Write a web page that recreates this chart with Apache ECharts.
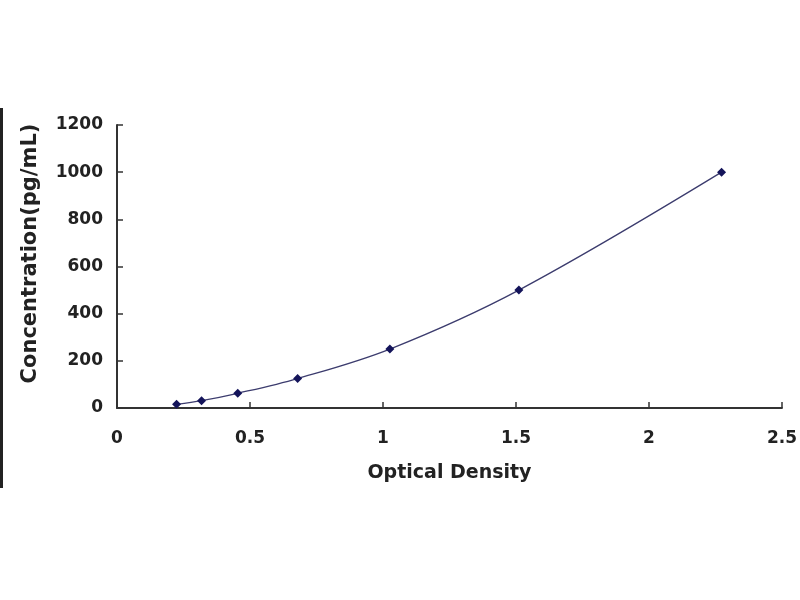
<!DOCTYPE html>
<html>
<head>
<meta charset="utf-8">
<title>Standard Curve</title>
<script src="https://cdn.jsdelivr.net/npm/echarts@6/dist/echarts.min.js"></script>
<style>
  html, body { margin: 0; padding: 0; background: #fff; }
  #chart { width: 800px; height: 600px; }
</style>
</head>
<body>
<div id="chart"></div>
<script>
// standard curve points (OD vs concentration)
const odValues = [0.224, 0.318, 0.454, 0.679, 1.026, 1.511, 2.273];
const concValues = [15.6, 31.25, 62.5, 125, 250, 500, 1000];
const xTicks = [0, 0.5, 1, 1.5, 2, 2.5];
const yTicks = [0, 200, 400, 600, 800, 1000, 1200];

const points = odValues.map((od, i) => [od, concValues[i]]);
const labelFont = 'DejaVu Sans';

let chart = echarts.init(document.getElementById('chart'), null, { renderer: 'canvas' });
chart.setOption({
  backgroundColor: '#fff',
  animation: false,
  grid: { left: 117, right: 18, top: 125, bottom: 192 },
  xAxis: {
    type: 'value',
    min: xTicks[0],
    max: xTicks[xTicks.length - 1],
    interval: 0.5,
    name: 'Optical Density',
    nameLocation: 'middle',
    nameGap: 56,
    nameTextStyle: { fontFamily: labelFont, fontWeight: 'bold', fontSize: 19, color: '#222' },
    axisLine: { lineStyle: { color: '#333', width: 2 } },
    axisTick: { inside: true, length: 6, lineStyle: { color: '#333', width: 1.5 } },
    axisLabel: { fontFamily: labelFont, fontWeight: 'bold', fontSize: 17, color: '#222', margin: 22 },
    splitLine: { show: false }
  },
  yAxis: {
    type: 'value',
    min: yTicks[0],
    max: yTicks[yTicks.length - 1],
    interval: 200,
    name: 'Concentration(pg/mL)',
    nameLocation: 'middle',
    nameGap: 76,
    nameTextStyle: { fontFamily: labelFont, fontWeight: 'bold', fontSize: 21, color: '#222', padding: [0, 0, 0, 26] },
    axisLine: { show: true, lineStyle: { color: '#333', width: 2 } },
    axisTick: { show: true, inside: true, length: 6, lineStyle: { color: '#333', width: 1.5 } },
    axisLabel: {
      fontFamily: labelFont, fontWeight: 'bold', fontSize: 17, color: '#222', margin: 14,
      formatter: v => String(v)
    },
    splitLine: { show: false }
  },
  series: [
    {
      type: 'line',
      data: points,
      smooth: 0.35,
      symbol: 'diamond',
      symbolSize: 9,
      itemStyle: { color: '#14145a' },
      lineStyle: { color: '#3c3c6e', width: 1.3 },
      z: 3
    }
  ],
  graphic: [
    // dark edge at the left of the picture
    { type: 'rect', shape: { x: 0, y: 108, width: 3, height: 380 }, style: { fill: '#222' } }
  ]
});
</script>
</body>
</html>
